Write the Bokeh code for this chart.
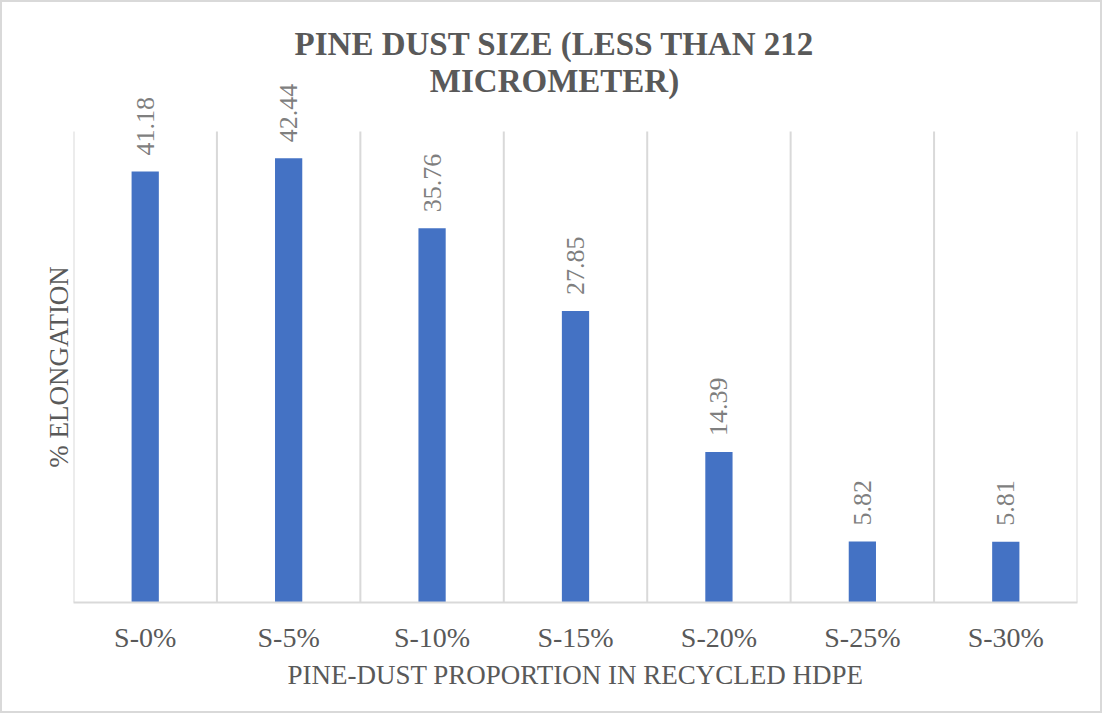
import math

from bokeh.embed import file_html
from bokeh.models import ColumnDataSource, FixedTicker, Label, LabelSet, Range1d
from bokeh.plotting import figure
from bokeh.resources import INLINE

# Elongation of recycled HDPE with pine dust (< 212 micrometer) added
categories = ["S-0%", "S-5%", "S-10%", "S-15%", "S-20%", "S-25%", "S-30%"]
elongation = [41.18, 42.44, 35.76, 27.85, 14.39, 5.82, 5.81]

title_lines = ["PINE DUST SIZE (LESS THAN 212", "MICROMETER)"]
x_title = "PINE-DUST PROPORTION IN RECYCLED HDPE"
y_title = "% ELONGATION"

FONT = "Liberation Serif"
TEXT_GREY = "#595959"
LINE_GREY = "#d9d9d9"

AXIS_MAX = 45          # top of the value axis
PLOT_PX = 471          # pixel height of the value axis (0 .. AXIS_MAX)
FRAME_PX = 598         # drawing area, taller so the labels above it are not clipped
y_top = AXIS_MAX * FRAME_PX / PLOT_PX

n = len(categories)
positions = [i + 0.5 for i in range(n)]
source = ColumnDataSource(dict(
    x=positions,
    top=elongation,
    label=[f"{v:.2f}" for v in elongation],
))

p = figure(
    width=1102, height=713,
    x_range=Range1d(0, n),
    y_range=Range1d(0, y_top),
    output_backend="svg",
    toolbar_location=None,
    min_border_left=71, min_border_right=27,
    min_border_top=2, min_border_bottom=113,
)
p.styles = {"border": "2px solid #d9d9d9"}
p.outline_line_color = None
p.background_fill_color = "white"
p.border_fill_color = "white"
p.xgrid.grid_line_color = None
p.ygrid.grid_line_color = None

# vertical separators between the categories, up to the top of the value axis
bounds = list(range(n + 1))
p.segment(x0=bounds, y0=[0] * len(bounds), x1=bounds, y1=[AXIS_MAX] * len(bounds),
          line_color=LINE_GREY, line_width=2)

p.vbar(x="x", top="top", width=0.19, source=source,
       fill_color="#4472C4", line_color=None)

labels = LabelSet(
    x="x", y="top", text="label", source=source,
    angle=math.pi / 2, y_offset=16,
    text_align="left", text_baseline="middle",
    text_font=FONT, text_font_size="26px", text_color="#7f7f7f",
)
p.add_layout(labels)

# chart title, two centred lines above the value axis
for line, dy in zip(title_lines, [88, 51]):
    p.add_layout(Label(
        x=n / 2, y=AXIS_MAX, x_offset=-21, y_offset=dy, text=line,
        text_align="center", text_baseline="alphabetic",
        text_font=FONT, text_font_style="bold", text_font_size="33px",
        text_color=TEXT_GREY,
    ))

# x axis: category names at the bar centres
p.xaxis.ticker = FixedTicker(ticks=positions)
p.xaxis.major_label_overrides = {pos: name for pos, name in zip(positions, categories)}
p.xaxis.major_label_text_font = FONT
p.xaxis.major_label_text_font_size = "28px"
p.xaxis.major_label_text_color = TEXT_GREY
p.xaxis.major_label_standoff = 13
p.xaxis.major_tick_line_color = None
p.xaxis.minor_tick_line_color = None
p.xaxis.axis_line_color = LINE_GREY
p.xaxis.axis_line_width = 2
p.xaxis.axis_label = x_title
p.xaxis.axis_label_text_font = FONT
p.xaxis.axis_label_text_font_size = "27px"
p.xaxis.axis_label_text_font_style = "normal"
p.xaxis.axis_label_text_color = TEXT_GREY
p.xaxis.axis_label_standoff = 4

# y axis: its title sits at the middle of the value axis
p.yaxis.ticker = FixedTicker(ticks=[AXIS_MAX / 2])
p.yaxis.major_label_overrides = {AXIS_MAX / 2: y_title}
p.yaxis.major_label_orientation = "vertical"
p.yaxis.major_label_text_font = FONT
p.yaxis.major_label_text_font_size = "27px"
p.yaxis.major_label_text_color = TEXT_GREY
p.yaxis.major_label_standoff = 0
p.yaxis.major_tick_out = 0
p.yaxis.major_tick_in = 0
p.yaxis.major_tick_line_color = None
p.yaxis.minor_tick_line_color = None
p.yaxis.axis_line_color = None

open("out.html", "w").write(file_html(p, INLINE))
